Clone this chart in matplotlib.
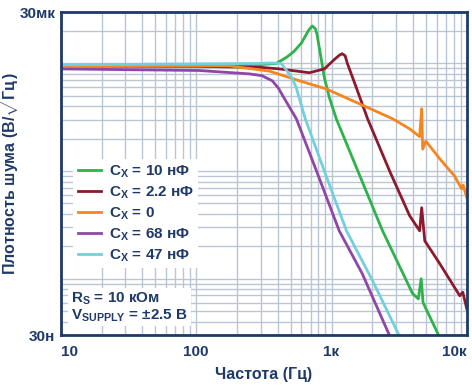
import matplotlib
matplotlib.use('Agg')
import matplotlib.pyplot as plt
from matplotlib.ticker import FixedLocator, LogLocator, NullFormatter

# шрифты и цвета
plt.rcParams['font.family'] = ['Liberation Sans', 'DejaVu Sans']
plt.rcParams['font.weight'] = 'bold'
plt.rcParams['axes.labelweight'] = 'bold'
plt.rcParams['mathtext.fontset'] = 'custom'
plt.rcParams['mathtext.rm'] = 'Liberation Sans:bold'
plt.rcParams['mathtext.bf'] = 'Liberation Sans:bold'
plt.rcParams['mathtext.it'] = 'Liberation Sans:bold'
navy = '#1f3a68'
grid_c = '#bac6d3'

# данные (Гц, мкВ/√Гц)
f_10n = [10, 100, 250, 390, 470, 530, 600, 680, 720, 760, 780, 830, 886, 965, 1085, 2380, 3970, 4380, 4600, 4750, 6260]
v_10n = [9.5, 9.5, 9.6, 10.0, 11.5, 13.0, 15.5, 20.5, 22.3, 21.0, 18.8, 12.0, 7.35, 4.8, 3.06, 0.28, 0.073, 0.065, 0.10, 0.06, 0.029]

f_2n2 = [10, 100, 300, 412, 687, 886, 1060, 1150, 1200, 1260, 1310, 1530, 1850, 2690, 3780, 4480, 4640, 4890, 6310, 8870, 9340, 10000]
v_2n2 = [9.5, 9.4, 9.2, 8.9, 8.2, 8.9, 11.0, 12.0, 12.3, 11.8, 10.0, 5.9, 3.05, 1.0, 0.385, 0.279, 0.457, 0.225, 0.138, 0.0695, 0.075, 0.0525]

f_0 = [10, 175, 346, 580, 915, 1620, 2830, 3780, 4480, 4640, 4720, 4980, 6310, 8120, 9150, 9400, 10000]
v_0 = [9.5, 9.5, 8.5, 6.9, 5.8, 4.2, 3.06, 2.47, 2.09, 3.79, 1.6, 1.9, 1.3, 0.9, 0.685, 0.74, 0.565]

f_68n = [10, 105, 247, 306, 365, 405, 445, 550, 785, 1140, 1690, 2690]
v_68n = [8.9, 8.6, 8.0, 7.7, 6.9, 5.9, 4.8, 3.06, 0.96, 0.279, 0.111, 0.0295]

f_47n = [10, 292, 365, 425, 470, 515, 550, 640, 886, 1290, 2010, 3170]
v_47n = [9.7, 10.0, 10.1, 10.0, 8.5, 7.2, 5.9, 3.06, 1.0, 0.279, 0.096, 0.0295]

series = [
    (f_10n, v_10n, '#2eb24b', 'C$_\\mathregular{X}$ = 10 нФ'),
    (f_2n2, v_2n2, '#8b1a2c', 'C$_\\mathregular{X}$ = 2.2 нФ'),
    (f_0, v_0, '#f7851f', 'C$_\\mathregular{X}$ = 0'),
    (f_68n, v_68n, '#9046a8', 'C$_\\mathregular{X}$ = 68 нФ'),
    (f_47n, v_47n, '#72cfdd', 'C$_\\mathregular{X}$ = 47 нФ'),
]

x_ticks = [10, 100, 1000, 10000]
x_labels = ['10', '100', '1к', '10к']
y_ticks = [30e-9, 30e-6]
y_labels = ['30н', '30мк']

fig = plt.figure(figsize=(4.72, 3.9), dpi=100)
ax = fig.add_axes([0.129, 0.141, 0.860, 0.828])

for f, v, c, lab in series:
    ax.plot(f, [x * 1e-6 for x in v], color=c, lw=2.0, label=lab, solid_joinstyle='round')

ax.set_xscale('log')
ax.set_yscale('log')
ax.set_xlim(10, 10000)
ax.set_ylim(30e-9, 30e-6)

ax.xaxis.set_major_locator(FixedLocator(x_ticks))
ax.set_xticklabels(x_labels)
ax.xaxis.set_minor_locator(LogLocator(base=10, subs=range(2, 10)))
ax.xaxis.set_minor_formatter(NullFormatter())
ax.yaxis.set_major_locator(FixedLocator(y_ticks))
ax.set_yticklabels(y_labels)
ax.yaxis.set_minor_locator(LogLocator(base=10, subs=range(1, 10)))
ax.yaxis.set_minor_formatter(NullFormatter())

ax.tick_params(which='both', length=0, colors=navy, labelsize=11)
ax.tick_params(axis='x', pad=7)
ax.tick_params(axis='y', pad=4)
xl = ax.get_xticklabels()
xl[0].set_ha('left')
xl[-1].set_ha('right')

# сетка по всем делениям
for xv in [m * 10 ** d for d in range(1, 4) for m in range(1, 10)]:
    ax.axvline(xv, color=grid_c, lw=1.0, zorder=0)
for yv in [m * 10 ** d for d in range(-8, -4) for m in range(1, 10)]:
    if 30e-9 <= yv <= 30e-6:
        ax.axhline(yv, color=grid_c, lw=1.0, zorder=0)

for s in ax.spines.values():
    s.set_color(navy)
    s.set_linewidth(2.0)

ax.set_xlabel('Частота (Гц)', color=navy, fontsize=11.5, labelpad=6)
ax.set_ylabel('Плотность шума (В/$\\sqrt{\\mathregular{Гц}}$)', color=navy, fontsize=11.5)
ax.yaxis.set_label_coords(-0.097, 0.5)

leg = ax.legend(loc='upper left', bbox_to_anchor=(0.012, 0.57), frameon=True,
                fontsize=11, handlelength=1.5, handletextpad=0.5,
                labelspacing=0.3, borderpad=0.3, fancybox=False)
leg.get_frame().set_edgecolor('none')
leg.get_frame().set_facecolor('white')
leg.get_frame().set_alpha(1)
for t in leg.get_texts():
    t.set_color(navy)

ax.text(0.025, 0.035, 'R$_\\mathregular{S}$ = 10 кОм\nV$_\\mathregular{SUPPLY}$ = ±2.5 В',
        transform=ax.transAxes, color=navy, fontsize=11, va='bottom', ha='left',
        linespacing=1.05,
        bbox=dict(facecolor='white', edgecolor='none', pad=2))

fig.savefig('out.png', dpi=100)
